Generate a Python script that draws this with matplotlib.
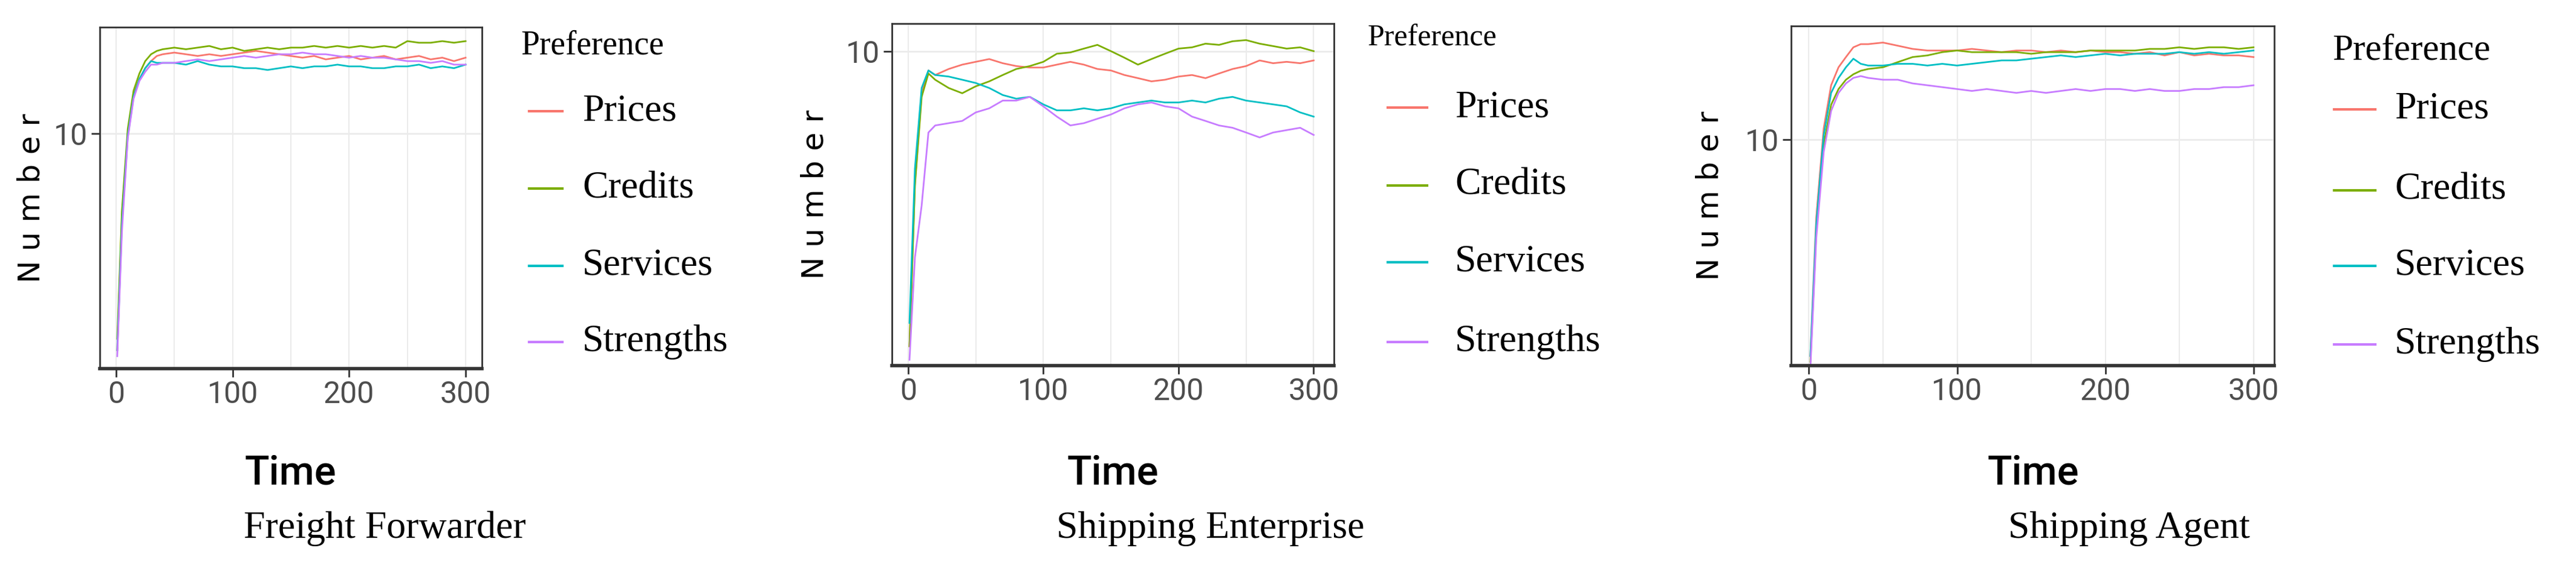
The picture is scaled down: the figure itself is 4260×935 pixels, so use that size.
import matplotlib
matplotlib.use('Agg')
import matplotlib.pyplot as plt
from matplotlib.lines import Line2D

W, H = 4260, 935

series_names = ['Prices', 'Credits', 'Services', 'Strengths']
colors = ['#F8766D', '#7CAE00', '#00BFC4', '#C77CFF']

# time points (sampled)
t_a = [1, 5, 10, 15, 20, 25, 30, 35, 40] + list(range(50, 301, 10))
t_b = [1, 5, 10, 15, 20] + list(range(30, 301, 10))

ff_prices = [4.0, 7.0, 10.0, 11.8, 12.6, 13.2, 13.6, 13.9, 14.0,
             14.1, 14.0, 13.9, 14.0, 13.9, 14.0, 14.1, 14.2, 14.1, 14.0, 13.9, 13.8, 13.9,
             13.7, 13.8, 13.9, 13.7, 13.8, 13.9, 13.7, 13.8, 13.9, 13.7, 13.8, 13.6, 13.8]
ff_credits = [4.2, 7.2, 10.2, 12.0, 12.9, 13.6, 14.0, 14.2, 14.3,
              14.4, 14.3, 14.4, 14.5, 14.3, 14.4, 14.2, 14.3, 14.4, 14.3, 14.4, 14.4, 14.5,
              14.4, 14.5, 14.4, 14.5, 14.4, 14.5, 14.4, 14.8, 14.7, 14.7, 14.8, 14.7, 14.8]
ff_services = [4.0, 6.8, 9.9, 11.7, 12.6, 13.2, 13.6, 13.5, 13.5,
               13.5, 13.4, 13.6, 13.4, 13.3, 13.3, 13.2, 13.2, 13.1, 13.2, 13.3, 13.2, 13.3,
               13.3, 13.4, 13.3, 13.3, 13.2, 13.2, 13.3, 13.3, 13.4, 13.2, 13.3, 13.2, 13.4]
ff_strengths = [3.9, 6.6, 9.8, 11.6, 12.5, 13.0, 13.4, 13.4, 13.5,
                13.5, 13.6, 13.7, 13.6, 13.7, 13.8, 13.9, 13.8, 13.9, 14.0, 14.0, 14.1, 14.0,
                14.0, 13.9, 13.8, 13.9, 13.8, 13.8, 13.7, 13.6, 13.6, 13.5, 13.6, 13.4, 13.4]

se_prices = [1.0, 3.6, 7.2, 8.6, 8.3,
             8.7, 9.0, 9.2, 9.4, 9.1, 8.9, 8.8, 8.8, 9.0, 9.2, 9.0, 8.7, 8.6, 8.3, 8.1,
             7.9, 8.0, 8.2, 8.3, 8.1, 8.4, 8.7, 8.9, 9.3, 9.1, 9.2, 9.1, 9.3]
se_credits = [1.0, 3.5, 7.0, 8.4, 8.0,
              7.5, 7.2, 7.6, 7.9, 8.3, 8.7, 8.9, 9.2, 9.8, 9.9, 10.2, 10.5, 10.0, 9.5, 9.0,
              9.4, 9.8, 10.2, 10.3, 10.6, 10.5, 10.8, 10.9, 10.6, 10.4, 10.2, 10.3, 10.0]
se_services = [1.2, 4.0, 7.5, 8.6, 8.3,
               8.2, 8.0, 7.8, 7.5, 7.1, 6.9, 7.0, 6.6, 6.3, 6.3, 6.4, 6.3, 6.4, 6.6, 6.7,
               6.8, 6.7, 6.7, 6.8, 6.7, 6.9, 7.0, 6.8, 6.7, 6.6, 6.5, 6.2, 6.0]
se_strengths = [0.9, 2.0, 3.0, 5.3, 5.6,
                5.7, 5.8, 6.2, 6.4, 6.8, 6.8, 7.0, 6.5, 6.0, 5.6, 5.7, 5.9, 6.1, 6.4, 6.6,
                6.7, 6.5, 6.4, 6.0, 5.8, 5.6, 5.5, 5.3, 5.1, 5.3, 5.4, 5.5, 5.2]

sa_prices = [4.0, 7.2, 10.5, 12.6, 13.6, 14.2, 14.8, 15.0, 15.0,
             15.1, 14.9, 14.7, 14.6, 14.6, 14.6, 14.7, 14.6, 14.5, 14.6, 14.6, 14.5, 14.6,
             14.5, 14.6, 14.5, 14.5, 14.4, 14.5, 14.3, 14.5, 14.3, 14.4, 14.3, 14.3, 14.2]
sa_credits = [3.9, 6.8, 9.8, 11.6, 12.4, 12.9, 13.2, 13.4, 13.5,
              13.6, 13.9, 14.2, 14.3, 14.5, 14.6, 14.5, 14.5, 14.5, 14.5, 14.4, 14.5, 14.5,
              14.5, 14.6, 14.6, 14.6, 14.6, 14.7, 14.7, 14.8, 14.7, 14.8, 14.8, 14.7, 14.8]
sa_services = [4.0, 7.0, 10.2, 12.2, 13.0, 13.6, 14.1, 13.8, 13.7,
               13.7, 13.8, 13.8, 13.7, 13.8, 13.7, 13.8, 13.9, 14.0, 14.0, 14.1, 14.2, 14.3,
               14.2, 14.3, 14.4, 14.3, 14.4, 14.4, 14.4, 14.5, 14.4, 14.5, 14.4, 14.5, 14.6]
sa_strengths = [3.8, 6.6, 9.5, 11.3, 12.2, 12.7, 13.0, 13.1, 13.0,
                12.9, 12.9, 12.7, 12.6, 12.5, 12.4, 12.3, 12.4, 12.3, 12.2, 12.3, 12.2, 12.3,
                12.4, 12.3, 12.4, 12.4, 12.3, 12.4, 12.3, 12.3, 12.4, 12.4, 12.5, 12.5, 12.6]

panels = [
    dict(title='Freight Forwarder', t=t_a,
         data=[ff_prices, ff_credits, ff_services, ff_strengths],
         box=(165, 797, 45, 610), ylim=(3.7, 15.7), xlim=(-14, 314),
         ylab_x=52, time_x=480, sub_x=636, leg_title=(861, 75, 40),
         leg_x=(875, 930, 963), leg_y=[184, 312, 440, 566]),
    dict(title='Shipping Enterprise', t=t_b,
         data=[se_prices, se_credits, se_services, se_strengths],
         box=(1475, 2206, 39, 605), ylim=(0.86, 12.4), xlim=(-12, 315),
         ylab_x=1347, time_x=1840, sub_x=2002, leg_title=(2262, 63, 36),
         leg_x=(2295, 2360, 2406), leg_y=[178, 307, 434, 566]),
    dict(title='Shipping Agent', t=t_a,
         data=[sa_prices, sa_credits, sa_services, sa_strengths],
         box=(2962, 3761, 43, 605), ylim=(3.84, 16.2), xlim=(-12, 314),
         ylab_x=2827, time_x=3362, sub_x=3521, leg_title=(3857, 84, 44),
         leg_x=(3860, 3928, 3960), leg_y=[181, 315, 440, 570]),
]

narrow = ['Roboto', 'DejaVu Sans']
serif = ['Liberation Serif', 'DejaVu Serif']

fig = plt.figure(figsize=(W / 100, H / 100), dpi=100)
fx = lambda x: x / W
fy = lambda y: 1 - y / H

for p in panels:
    l, r, top, bot = p['box']
    ax = fig.add_axes([fx(l), fy(bot), (r - l) / W, (bot - top) / H])
    for vals, c in zip(p['data'], colors):
        ax.plot(p['t'], vals, color=c, lw=2)
    ax.set_yscale('log')
    ax.set_ylim(*p['ylim'])
    ax.set_xlim(*p['xlim'])
    ax.set_yticks([10])
    ax.set_yticks([], minor=True)
    ax.set_yticklabels(['10'])
    ax.set_xticks([0, 100, 200, 300])
    ax.set_xticks([50, 150, 250], minor=True)
    ax.grid(True, which='both', axis='x', color='#ebebeb', lw=1.5)
    ax.grid(True, which='major', axis='y', color='#ebebeb', lw=2)
    ax.set_axisbelow(True)
    ax.tick_params(axis='both', which='major', length=10, width=2, color='#333333',
                   labelcolor='#4d4d4d', labelsize=36, pad=4)
    ax.tick_params(axis='x', which='minor', length=0)
    for lab in ax.get_xticklabels() + ax.get_yticklabels():
        lab.set_family(narrow)
    for s in ax.spines.values():
        s.set_color('#333333')
        s.set_linewidth(2)
    ax.spines['bottom'].set_linewidth(4)

    fig.text(fx(p['ylab_x']), fy((top + bot) / 2), 'N u m b e r', rotation=90,
             ha='center', va='center', fontsize=36, family='DejaVu Sans')
    fig.text(fx(p['time_x']), fy(783), 'Time', ha='center', va='center',
             fontsize=48, family=narrow, fontweight='medium')
    fig.text(fx(p['sub_x']), fy(875), p['title'], ha='center', va='center',
             fontsize=46, family=serif)
    tx, ty, ts = p['leg_title']
    fig.text(fx(tx), fy(ty), 'Preference', ha='left', va='center', fontsize=ts,
             family=serif)
    x0, x1, xt = p['leg_x']
    for name, c, yy in zip(series_names, colors, p['leg_y']):
        fig.add_artist(Line2D([fx(x0), fx(x1)], [fy(yy), fy(yy)], color=c, lw=3,
                              transform=fig.transFigure))
        fig.text(fx(xt), fy(yy), name, ha='left', va='center', fontsize=46,
                 family=serif)

fig.savefig('out.png', dpi=100)
